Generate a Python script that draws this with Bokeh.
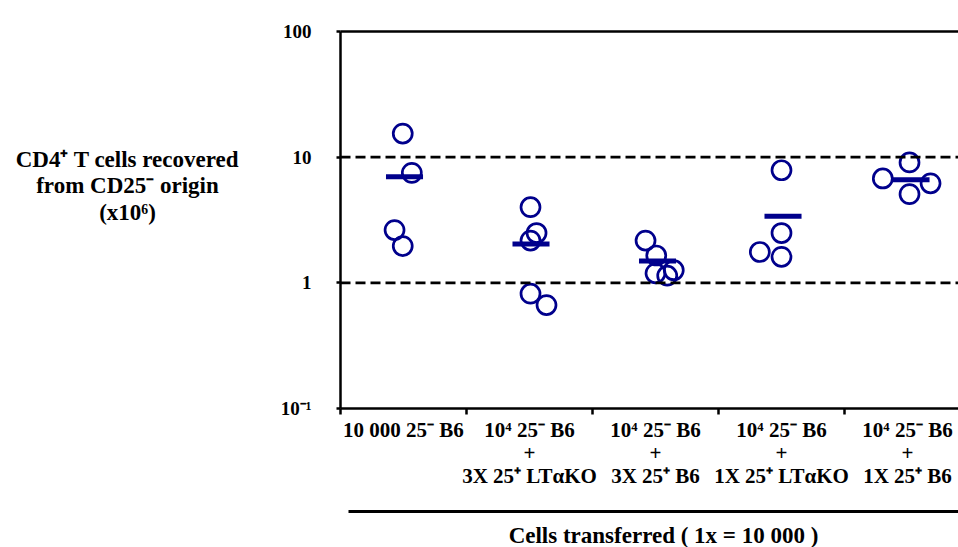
from bokeh.plotting import figure
from bokeh.layouts import column, row
from bokeh.models import Range1d, FixedTicker, Span, LinearAxis
from bokeh.core.properties import value
from bokeh.embed import file_html
from bokeh.resources import INLINE

# ---- data ----
categories = [
    "10 000 25⁻ B6",
    "10⁴ 25⁻ B6\n+\n3X 25⁺ LTαKO",
    "10⁴ 25⁻ B6\n+\n3X 25⁺ B6",
    "10⁴ 25⁻ B6\n+\n1X 25⁺ LTαKO",
    "10⁴ 25⁻ B6\n+\n1X 25⁺ B6",
]
values = [
    [15.4, 7.5, 2.63, 1.96],
    [4.0, 2.49, 2.17, 0.82, 0.665],
    [2.17, 1.65, 1.26, 1.19, 1.14],
    [7.87, 2.49, 1.76, 1.61],
    [6.77, 9.08, 6.19, 5.08],
]
jitter = [
    [-0.006, 0.066, -0.071, -0.006],
    [0.008, 0.056, 0.008, 0.008, 0.135],
    [-0.079, 0.006, 0.145, 0.0, 0.093],
    [0.0, 0.0, -0.172, 0.0],
    [-0.196, 0.016, 0.183, 0.016],
]
means = [7.0, 2.04, 1.49, 3.38, 6.6]
mean_offset = [0.008, 0.012, 0.016, 0.012, 0.028]
y_ticks = [0.1, 1, 10, 100]
y_tick_labels = ["10⁻¹", "1", "10", "100"]
ref_lines = [1, 10]
y_label_lines = ["CD4⁺ T cells recovered", "from CD25⁻ origin", "(x10⁶)"]
x_title = "Cells transferred ( 1x = 10 000 )"

BLUE = "#00008C"
FONT = "Liberation Serif"

# page geometry (pixels)
PAGE_W, PAGE_H = 958, 547
LEFT_W = 256            # width of the y-title panel
FRAME_L, FRAME_T, FRAME_B = 340, 31, 408
MAIN_H = 500            # main figure height (frame + category labels)
CAT_W = 126.0           # pixel width of one category
n_cat = len(categories)
x_end = (PAGE_W - FRAME_L) / CAT_W


def bare(fig):
    fig.outline_line_color = None
    fig.xgrid.visible = False
    fig.ygrid.visible = False
    fig.background_fill_color = "white"
    fig.border_fill_color = "white"


# ---------------- main plot ----------------
p = figure(width=PAGE_W - LEFT_W, height=MAIN_H, y_axis_type="log", title=None,
           output_backend="svg", toolbar_location=None,
           x_range=Range1d(0, x_end), y_range=Range1d(0.1, 100),
           min_border_left=FRAME_L - LEFT_W, min_border_right=0,
           min_border_top=FRAME_T, min_border_bottom=MAIN_H - FRAME_B)
bare(p)

ya = p.yaxis[0]
ya.ticker = FixedTicker(ticks=y_ticks)
ya.major_label_overrides = {t: l for t, l in zip(y_ticks, y_tick_labels)}
ya.major_label_text_font = FONT
ya.major_label_text_font_style = "bold"
ya.major_label_text_font_size = "19px"
ya.major_label_text_color = "black"
ya.major_label_standoff = 25
ya.major_tick_out = 4
ya.major_tick_in = 0
ya.minor_tick_out = 0
ya.minor_tick_in = 0
ya.axis_line_width = 2.5
ya.major_tick_line_width = 2.5

# x axis: labels at category centres, ticks (minor) at category boundaries
centers = [i + 0.5 for i in range(n_cat)]
xa = p.xaxis[0]
xa.ticker = FixedTicker(ticks=centers, minor_ticks=list(range(n_cat)))
xa.major_label_overrides = {c: t for c, t in zip(centers, categories)}
xa.major_label_text_font = FONT
xa.major_label_text_font_style = "bold"
xa.major_label_text_font_size = "21px"
xa.major_label_text_line_height = 0.97
xa.major_label_text_color = "black"
xa.major_label_text_align = "center"
xa.major_label_standoff = 3
xa.major_tick_out = 0
xa.major_tick_in = 0
xa.minor_tick_out = 6
xa.minor_tick_in = 0
xa.minor_tick_line_width = 2.5
xa.minor_tick_line_color = "black"
xa.axis_line_width = 2.5

top = LinearAxis(ticker=FixedTicker(ticks=[]), major_label_standoff=0,
                 major_tick_out=0, major_tick_in=0,
                 minor_tick_out=0, minor_tick_in=0, axis_line_width=2.5)
p.add_layout(top, "above")

for r in ref_lines:
    p.add_layout(Span(location=r, dimension="width", line_color="black",
                      line_width=2.7, line_dash="10 5"))

xs, ys = [], []
for i, (vals, jit) in enumerate(zip(values, jitter)):
    for v, j in zip(vals, jit):
        xs.append(i + 0.5 + j)
        ys.append(v)
p.scatter(xs, ys, marker="circle", size=19, fill_color=None,
          line_color=BLUE, line_width=2.7)

half = 0.147
x0 = [i + 0.5 + o - half for i, o in enumerate(mean_offset)]
x1 = [i + 0.5 + o + half for i, o in enumerate(mean_offset)]
p.segment(x0=x0, y0=means, x1=x1, y1=means, line_color=BLUE, line_width=5)

# ---------------- y title panel (frame aligned with the main frame) ----------------
lt = figure(width=LEFT_W, height=MAIN_H, output_backend="svg", title=None,
            toolbar_location=None, x_range=Range1d(0, LEFT_W),
            y_range=Range1d(FRAME_B, FRAME_T), x_axis_location=None,
            y_axis_location=None, min_border_left=0, min_border_right=0,
            min_border_top=FRAME_T, min_border_bottom=MAIN_H - FRAME_B)
bare(lt)
lt.text(x=[127] * 3, y=[159, 185, 212], text=y_label_lines,
        text_align="center", text_baseline="alphabetic",
        text_font=value(FONT), text_font_style="bold",
        text_font_size="23px", text_color="black")

# ---------------- bottom panel (rule and x title) ----------------
bt = figure(width=PAGE_W, height=PAGE_H - MAIN_H, output_backend="svg", title=None,
            toolbar_location=None, x_range=Range1d(0, x_end),
            y_range=Range1d(PAGE_H, MAIN_H), x_axis_location=None,
            y_axis_location=None, min_border_left=FRAME_L, min_border_right=0,
            min_border_top=0, min_border_bottom=0)
bare(bt)
bt.segment(x0=[(348 - FRAME_L) / CAT_W], y0=[511], x1=[x_end], y1=[511],
           line_color="black", line_width=3)
bt.text(x=[(663 - FRAME_L) / CAT_W], y=[535], text=[x_title], text_align="center",
        text_baseline="alphabetic", text_font=value(FONT),
        text_font_style="bold", text_font_size="23px", text_color="black")

layout = column(row(lt, p, spacing=0), bt, spacing=0)
open("out.html", "w").write(file_html(layout, INLINE))
